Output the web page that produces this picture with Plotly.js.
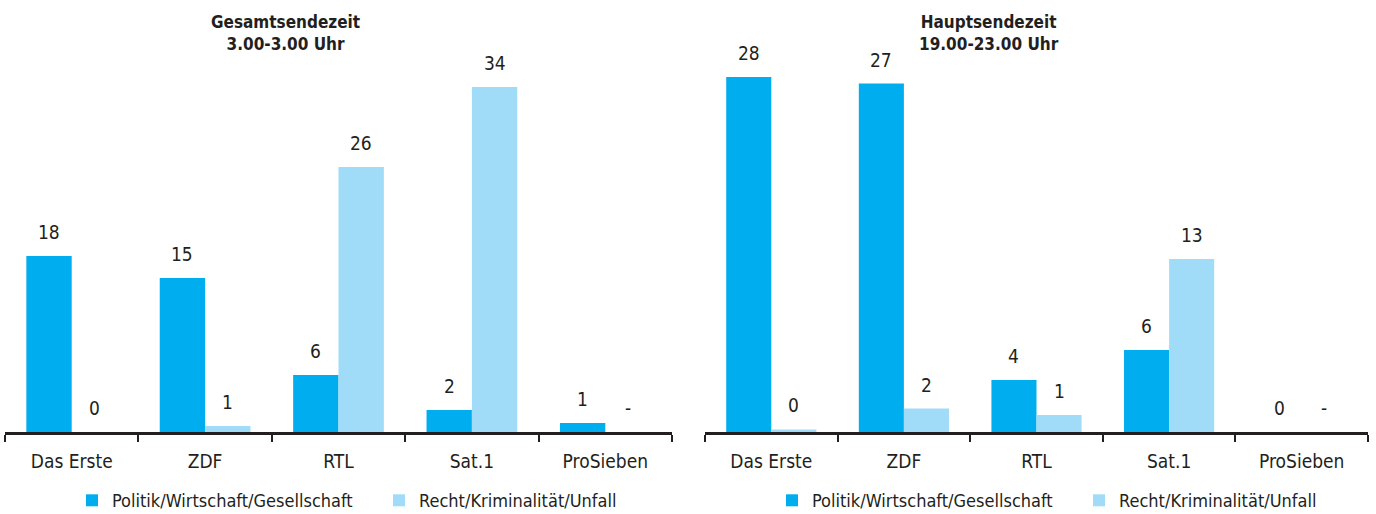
<!DOCTYPE html>
<html>
<head>
<meta charset="utf-8">
<script src="https://cdn.plot.ly/plotly-3.0.1.min.js"></script>
<style>
html,body{margin:0;padding:0;background:#fff;}
#chart{width:1376px;height:514px;}
</style>
</head>
<body>
<div id="chart"></div>
<script>
// ---- data ----
var channels = ["Das Erste", "ZDF", "RTL", "Sat.1", "ProSieben"];
var seriesNames = ["Politik/Wirtschaft/Gesellschaft", "Recht/Kriminalität/Unfall"];

// Gesamtsendezeit 3.00-3.00 Uhr
var gesamtPolitik = [17.6, 15.4, 5.7, 2.2, 0.9];
var gesamtRecht   = [0, 0.6, 26.5, 34.5, null];
var gesamtPolitikLabels = ["18", "15", "6", "2", "1"];
var gesamtRechtLabels   = ["0", "1", "26", "34", "-"];

// Hauptsendezeit 19.00-23.00 Uhr
var hauptPolitik = [27.3, 26.8, 4.0, 6.3, 0];
var hauptRecht   = [0.2, 1.8, 1.3, 13.3, null];
var hauptPolitikLabels = ["28", "27", "4", "6", "0"];
var hauptRechtLabels   = ["0", "2", "1", "13", "-"];

var titles = ["<b>Gesamtsendezeit</b><br><b>3.00-3.00 Uhr</b>", "<b>Hauptsendezeit</b><br><b>19.00-23.00 Uhr</b>"];

// ---- style ----
var FONT = "'Liberation Sans Narrow', 'Arial Narrow', 'DejaVu Sans Condensed', sans-serif";
var TXT = "#231f20";
var C1 = "#00aeef";
var C2 = "#a0dcf7";
var BARGAP = 0.32;
var half = (1 - BARGAP) / 4; // offset of each bar centre from category centre

var traces = [
  {type: "bar", x: channels, y: gesamtPolitik, name: seriesNames[0], marker: {color: C1}, xaxis: "x", yaxis: "y", legend: "legend", hoverinfo: "x+y"},
  {type: "bar", x: channels, y: gesamtRecht, name: seriesNames[1], marker: {color: C2}, xaxis: "x", yaxis: "y", legend: "legend", hoverinfo: "x+y"},
  {type: "bar", x: channels, y: hauptPolitik, name: seriesNames[0], marker: {color: C1}, xaxis: "x2", yaxis: "y2", legend: "legend2", hoverinfo: "x+y"},
  {type: "bar", x: channels, y: hauptRecht, name: seriesNames[1], marker: {color: C2}, xaxis: "x2", yaxis: "y2", legend: "legend2", hoverinfo: "x+y"}
];

var annotations = [];
function addLabels(vals, labels, xref, yref, side) {
  for (var i = 0; i < vals.length; i++) {
    annotations.push({
      xref: xref, yref: yref,
      x: i + side * half, y: vals[i] == null ? 0 : vals[i],
      text: labels[i], showarrow: false,
      yanchor: "bottom", xanchor: "center", yshift: 11,
      font: {family: FONT, size: 19, color: TXT}
    });
  }
}
addLabels(gesamtPolitik, gesamtPolitikLabels, "x", "y", -1);
addLabels(gesamtRecht, gesamtRechtLabels, "x", "y", 1);
addLabels(hauptPolitik, hauptPolitikLabels, "x2", "y2", -1);
addLabels(hauptRecht, hauptRechtLabels, "x2", "y2", 1);

annotations.push({xref: "paper", yref: "paper", x: 285/1376, y: 1.018, yanchor: "middle", xanchor: "center",
  text: titles[0], showarrow: false, font: {family: FONT, size: 17, color: TXT}});
annotations.push({xref: "paper", yref: "paper", x: 989/1376, y: 1.018, yanchor: "middle", xanchor: "center",
  text: titles[1], showarrow: false, font: {family: FONT, size: 17, color: TXT}});

function xax(domain) {
  return {
    domain: domain, type: "category", range: [-0.5, 4.5], fixedrange: true,
    showline: true, linecolor: TXT, linewidth: 3,
    ticks: "outside", tickson: "boundaries", ticklen: 7, tickwidth: 2, tickcolor: TXT,
    ticklabelstandoff: 10,
    showgrid: false, zeroline: false,
    tickfont: {family: FONT, size: 19, color: TXT}
  };
}
function yax(range, anchor) {
  return {range: range, visible: false, showgrid: false, zeroline: false, anchor: anchor, fixedrange: true};
}

var legendBase = {
  orientation: "h", yanchor: "middle", xanchor: "left", y: -0.175,
  font: {family: FONT, size: 18, color: TXT}, bgcolor: "rgba(0,0,0,0)",
  itemwidth: 30, tracegroupgap: 0, traceorder: "normal", entrywidth: 262
};

var layout = {
  width: 1376, height: 514,
  margin: {l: 0, r: 0, t: 40, b: 82, autoexpand: false},
  paper_bgcolor: "#fff", plot_bgcolor: "#fff",
  barmode: "group", bargap: BARGAP, bargroupgap: 0,
  showlegend: true,
  xaxis: xax([5/1376, 672/1376]),
  yaxis: yax([0, 39.2], "x"),
  xaxis2: xax([705/1376, 1368/1376]),
  yaxis2: yax([0, 392/13], "x2"),
  legend: Object.assign({}, legendBase, {x: 72/1376}),
  legend2: Object.assign({}, legendBase, {x: 772/1376}),
  annotations: annotations
};

Plotly.newPlot("chart", traces, layout, {displayModeBar: false, staticPlot: true});
</script>
</body>
</html>
